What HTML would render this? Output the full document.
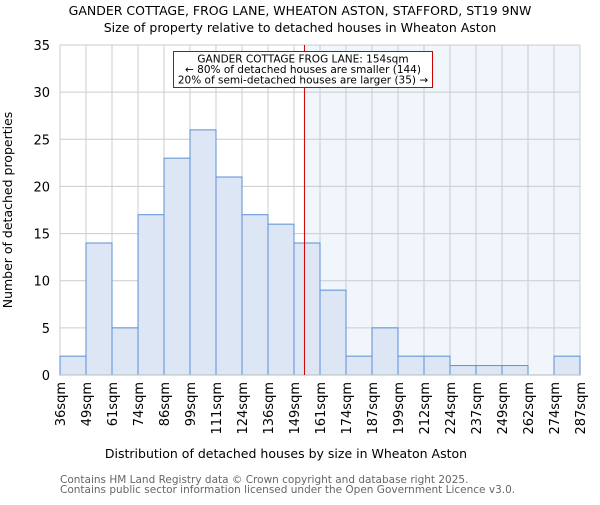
<!DOCTYPE html>
<html><head><meta charset="utf-8"><style>body{margin:0;background:#fff}svg{font-family:"DejaVu Sans","Liberation Sans",sans-serif}</style></head>
<body>
<svg id="c" width="600" height="500" xmlns="http://www.w3.org/2000/svg">
<text x="300" y="15" text-anchor="middle" font-size="12.5">GANDER COTTAGE, FROG LANE, WHEATON ASTON, STAFFORD, ST19 9NW</text>
<text x="300" y="32" text-anchor="middle" font-size="12.5">Size of property relative to detached houses in Wheaton Aston</text>
<g id="plot"></g>
<text x="286" y="458" text-anchor="middle" font-size="12.5">Distribution of detached houses by size in Wheaton Aston</text>
<text transform="translate(12,210) rotate(-90)" text-anchor="middle" font-size="12.5">Number of detached properties</text>
<text x="60" y="483" font-size="10.5" fill="#666">Contains HM Land Registry data © Crown copyright and database right 2025.</text>
<text x="60" y="493" font-size="10.5" fill="#666">Contains public sector information licensed under the Open Government Licence v3.0.</text>
</svg>
<script>
const edges=["36sqm","49sqm","61sqm","74sqm","86sqm","99sqm","111sqm","124sqm","136sqm","149sqm","161sqm","174sqm","187sqm","199sqm","212sqm","224sqm","237sqm","249sqm","262sqm","274sqm","287sqm"];
const counts=[2,14,5,17,23,26,21,17,16,14,9,2,5,2,2,1,1,1,0,2];
const yTicks=[0,5,10,15,20,25,30,35];
const marker=154, binStart=36, binWidth=12.55;
const L=60,R=580,T=45,B=375,yMax=35;
const n=counts.length, bw=(R-L)/n;
const x=i=>L+i*bw, y=v=>B-(v/yMax)*(B-T);
const NS="http://www.w3.org/2000/svg", g=document.getElementById('plot');
function mk(t,a){const e=document.createElementNS(NS,t);for(const k in a)e.setAttribute(k,a[k]);g.appendChild(e);return e;}
const mx=L+((marker-binStart)/binWidth)*bw;
let e=mk('rect',{x:mx,y:T,width:R-mx,height:B-T,fill:'#f1f5fc'});


yTicks.forEach(v=>{let l=mk('line',{x1:L,x2:R,y1:y(v),y2:y(v),stroke:'#ccc','stroke-width':1});


let t=mk('text',{x:L-10,y:y(v)+5,'text-anchor':'end','font-size':13});t.textContent=v;

});
edges.forEach((s,i)=>{let l=mk('line',{x1:x(i),x2:x(i),y1:T,y2:B,stroke:'#ccc','stroke-width':1});


let t=mk('text',{transform:`translate(${x(i)+5},382) rotate(-90)`,'text-anchor':'end','font-size':13});t.textContent=s;

});
counts.forEach((v,i)=>{if(v<=0)return;let r=mk('rect',{x:x(i),y:y(v),width:bw,height:B-y(v),fill:'#dce6f4',stroke:'#5b8fd6','stroke-width':1});

});
e=mk('line',{x1:L,x2:R,y1:B,y2:B,stroke:'#bbb','stroke-width':1});


e=mk('line',{x1:mx,x2:mx,y1:T,y2:B,stroke:'#cc0000','stroke-width':1});


e=mk('rect',{x:173.5,y:51.5,width:259,height:36,fill:'#fff',stroke:'#cc0000','stroke-width':1});


["GANDER COTTAGE FROG LANE: 154sqm","← 80% of detached houses are smaller (144)","20% of semi-detached houses are larger (35) →"].forEach((s,i)=>{let t=mk('text',{x:303,y:62.5+i*10.5,'text-anchor':'middle','font-size':10.5});t.textContent=s;

});
</script>
</body></html>
